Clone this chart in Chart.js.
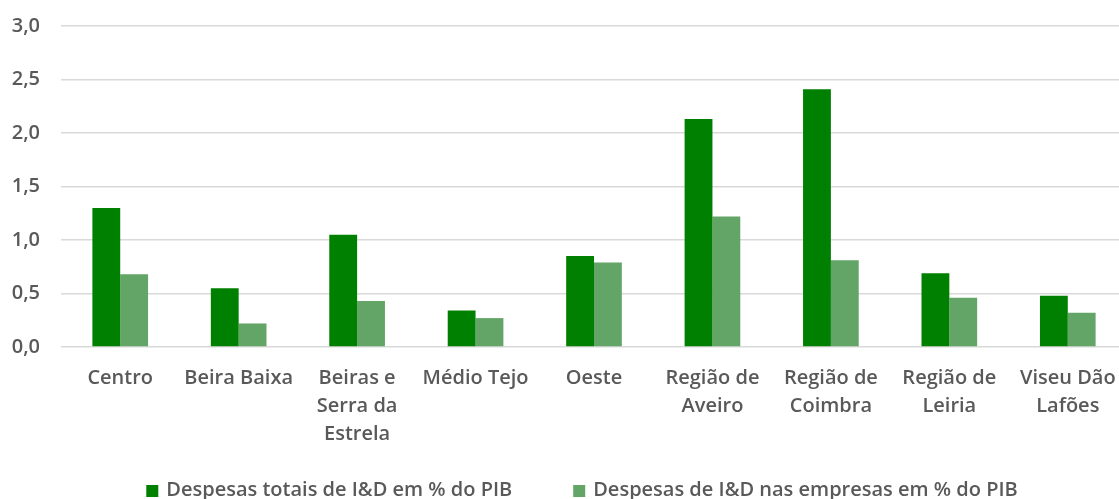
<!DOCTYPE html>
<html><head><meta charset="utf-8">
<script src="https://cdn.jsdelivr.net/npm/chart.js@4"></script>
<style>
html,body{margin:0;padding:0;background:#fff;overflow:hidden;}
#wrap{width:1127px;height:499px;position:relative;}
</style></head>
<body><div id="wrap"><canvas id="c"></canvas></div>
<script>
const categories = [["Centro"],["Beira Baixa"],["Beiras e","Serra da","Estrela"],["Médio Tejo"],["Oeste"],["Região de","Aveiro"],["Região de","Coimbra"],["Região de","Leiria"],["Viseu Dão","Lafões"]];
const seriesNames = ["Despesas totais de I&D em % do PIB","Despesas de I&D nas empresas em % do PIB"];
const totalID = [1.30,0.55,1.05,0.34,0.85,2.13,2.41,0.69,0.48];
const empresasID = [0.68,0.22,0.43,0.27,0.79,1.22,0.81,0.46,0.32];
const yTicks = [0,0.5,1,1.5,2,2.5,3];

const txt = '#595959';
const FONT = 'Open Sans';

const customLegend = {
  id:'customLegend',
  afterDraw(chart){
    const ctx = chart.ctx;
    const font = '600 20px "'+FONT+'"';
    ctx.save();
    ctx.font = font;
    const box = 12, gapBoxText = 8, gapItems = 61;
    const items = chart.data.datasets.map(ds=>({label:ds.label,color:ds.backgroundColor,w:ctx.measureText(ds.label).width}));
    const total = items.reduce((s,it)=>s+box+gapBoxText+it.w,0)+gapItems*(items.length-1);
    let x = 582 - total/2;
    const yMid = 490;
    ctx.textBaseline='middle';
    ctx.textAlign='left';
    items.forEach(it=>{
      ctx.fillStyle = it.color;
      ctx.fillRect(x, yMid-5, box, box);
      x += box+gapBoxText;
      ctx.fillStyle = txt;
      ctx.fillText(it.label, x, yMid);
      x += it.w + gapItems;
    });
    ctx.restore();
  }
};

new Chart(document.getElementById('c'), {
  type:'bar',
  data:{
    labels:categories,
    datasets:[
      {label:seriesNames[0],data:totalID,backgroundColor:'#008000',categoryPercentage:0.47,barPercentage:1.0},
      {label:seriesNames[1],data:empresasID,backgroundColor:'#63a467',categoryPercentage:0.47,barPercentage:1.0}
    ]
  },
  plugins:[customLegend],
  options:{
    responsive:true,maintainAspectRatio:false,animation:false,
    layout:{padding:{left:0,right:0,top:26,bottom:42}},
    plugins:{
      tooltip:{enabled:false},
      legend:{display:false}
    },
    scales:{
      x:{grid:{display:false},border:{display:false},
         ticks:{color:txt,font:{family:FONT,size:20,weight:'600',lineHeight:1.4},padding:9,maxRotation:0,autoSkip:false}},
      y:{min:0,max:3,border:{display:false},
         grid:{color:'#d9d9d9',lineWidth:1.5,drawTicks:false},
         afterBuildTicks:(ax)=>{ax.ticks=yTicks.map(v=>({value:v}));},
         afterFit:(ax)=>{ax.width=61;ax.paddingTop=0;ax.paddingBottom=0;},
         ticks:{color:txt,font:{family:FONT,size:20,weight:'600'},padding:21,
           callback:(v)=>Number(v).toFixed(1).replace('.',',')}}
    }
  }
});
</script></body></html>
